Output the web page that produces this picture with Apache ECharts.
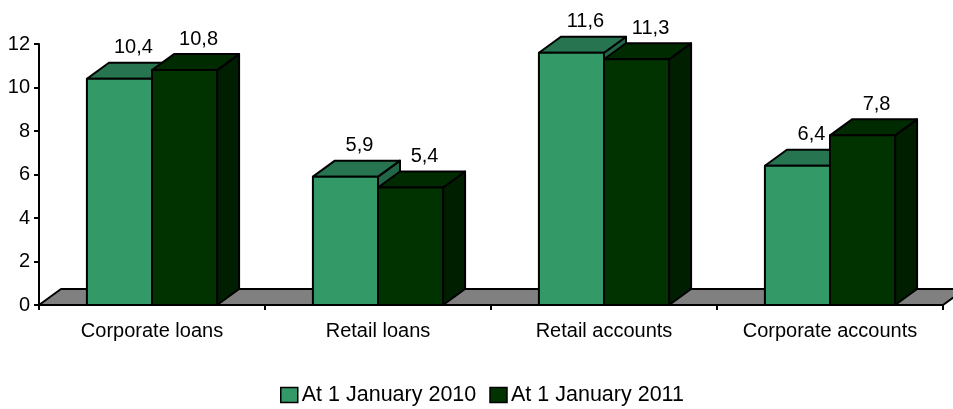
<!DOCTYPE html>
<html>
<head>
<meta charset="utf-8">
<script src="https://cdn.jsdelivr.net/npm/echarts@6/dist/echarts.min.js"></script>
<style>
  html, body { margin: 0; padding: 0; background: #fff; }
  #chart { width: 953px; height: 409px; }
</style>
</head>
<body>
<div id="chart"></div>
<script>
// Chart data
const categories = ['Corporate loans', 'Retail loans', 'Retail accounts', 'Corporate accounts'];
const seriesNames = ['At 1 January 2010', 'At 1 January 2011'];
const values2010 = [10.4, 5.9, 11.6, 6.4];
const values2011 = [10.8, 5.4, 11.3, 7.8];
const yTicks = [0, 2, 4, 6, 8, 10, 12];

// 3D look: depth offset of the extruded faces (pixels)
const DX = 22, DY = -16;
const BAR_RATIO = 0.288;   // share of a category band taken by one bar
const FONT = 'Liberation Sans';

const fmt = v => v.toFixed(1).replace('.', ',');

function barRenderer(shift, colors) {
  return function (params, api) {
    const cat = api.value(0);
    const val = api.value(1);
    const top = api.coord([cat, val]);
    const base = api.coord([cat, 0]);
    const band = api.size([1, 0])[0];
    const w = band * BAR_RATIO;
    const x0 = top[0] + shift * w;
    const x1 = x0 + w;
    const yT = top[1], yB = base[1];
    const stroke = { stroke: '#000', lineWidth: 2, lineJoin: 'round' };
    return {
      type: 'group',
      children: [
        { type: 'polygon', shape: { points: [[x1, yT], [x1 + DX, yT + DY], [x1 + DX, yB + DY], [x1, yB]] },
          style: Object.assign({ fill: colors.side }, stroke) },
        { type: 'polygon', shape: { points: [[x0, yT], [x0 + DX, yT + DY], [x1 + DX, yT + DY], [x1, yT]] },
          style: Object.assign({ fill: colors.top }, stroke) },
        { type: 'rect', shape: { x: x0, y: yT, width: w, height: yB - yT },
          style: Object.assign({ fill: colors.front }, stroke) },
        { type: 'text',
          style: { text: fmt(val), x: (x0 + x1) / 2 + DX - 8, y: yT + DY - 15,
                   align: 'center', verticalAlign: 'middle',
                   fontSize: 20, fontFamily: FONT, fill: '#000' } }
      ]
    };
  };
}

function floorRenderer(params, api) {
  const cs = params.coordSys;
  const yb = cs.y + cs.height;
  const xl = cs.x, xr = cs.x + cs.width;
  return {
    type: 'polygon',
    shape: { points: [[xl, yb], [xr, yb], [xr + DX, yb + DY], [xl + DX, yb + DY]] },
    style: { fill: '#808080', stroke: '#000', lineWidth: 2, lineJoin: 'round' }
  };
}

const chart = echarts.init(document.getElementById('chart'), null, { renderer: 'canvas' });

chart.setOption({
  animation: false,
  backgroundColor: '#fff',
  grid: { left: 39, right: 10, top: 44, bottom: 104, containLabel: false },
  legend: {
    data: seriesNames,
    left: 280, top: 384, padding: 0,
    icon: 'rect', itemWidth: 17, itemHeight: 15, itemGap: 13,
    itemStyle: { borderColor: '#000', borderWidth: 1.5 },
    textStyle: { fontSize: 21.5, fontFamily: FONT, color: '#000', padding: [0, 0, 0, -1] }
  },
  xAxis: {
    type: 'category',
    data: categories,
    boundaryGap: true,
    axisLine: { lineStyle: { color: '#000', width: 2 } },
    axisTick: { show: true, interval: 0, length: 5, lineStyle: { color: '#000', width: 2 } },
    axisLabel: { interval: 0, hideOverlap: false, fontSize: 20, fontFamily: FONT, color: '#000', margin: 16 }
  },
  yAxis: {
    type: 'value',
    min: yTicks[0], max: yTicks[yTicks.length - 1], interval: yTicks[1] - yTicks[0],
    axisLine: { show: true, lineStyle: { color: '#000', width: 2 } },
    axisTick: { show: true, length: 5, lineStyle: { color: '#000', width: 2 } },
    splitLine: { show: false },
    axisLabel: { fontSize: 20, fontFamily: FONT, color: '#000', margin: 9 }
  },
  series: [
    { type: 'custom', name: 'floor', z: 1, silent: true, data: [[0, 0]], renderItem: floorRenderer },
    { type: 'custom', name: seriesNames[0], z: 2,
      itemStyle: { color: '#339966' },
      data: values2010.map((v, i) => [i, v]),
      encode: { x: 0, y: 1 },
      renderItem: barRenderer(-1, { front: '#339966', top: '#267550', side: '#22664a' }) },
    { type: 'custom', name: seriesNames[1], z: 3,
      itemStyle: { color: '#003300' },
      data: values2011.map((v, i) => [i, v]),
      encode: { x: 0, y: 1 },
      renderItem: barRenderer(0, { front: '#003300', top: '#002a00', side: '#001f00' }) }
  ]
});
</script>
</body>
</html>
